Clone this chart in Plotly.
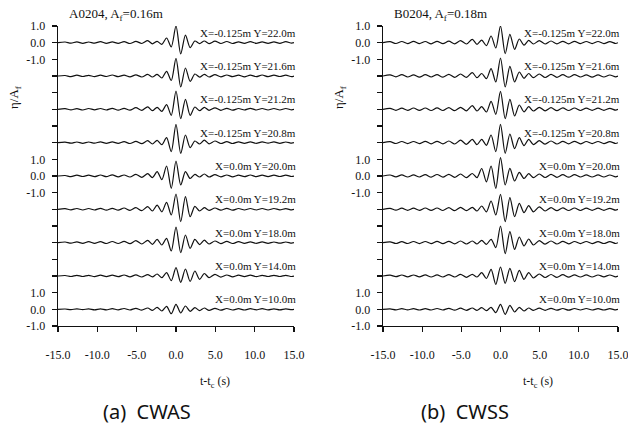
import plotly.graph_objects as go

# Common sampling instants (s) of the wave extrema
T = [-15.0, -14.1, -13.35, -12.6, -11.85, -11.1, -10.35, -9.6, -8.85, -8.1, -7.35, -6.6, -5.85, -5.1, -4.35,
     -3.6, -3.0, -2.4, -1.8, -1.2, -0.6, 0.0, 0.6, 1.2, 1.8, 2.4, 3.0, 3.6, 4.2,
     4.95, 5.7, 6.45, 7.2, 7.95, 8.7, 9.45, 10.2, 10.95, 11.7, 12.45, 13.2, 13.95, 14.7, 15.0]

# (a) CWAS  eta/A_f
CWAS_Y220 = [0, 0.04, -0.03, 0.05, -0.04, 0.04, -0.03, 0.06, -0.04, 0.05, -0.04, 0.06, -0.05, 0.08, -0.05,
             0.12, -0.07, 0.08, -0.1, 0.28, -0.25, 1.0, -0.68, 0.45, -0.3, 0.1, -0.06, 0.1, -0.06,
             0.09, -0.05, 0.07, -0.05, 0.05, -0.04, 0.06, -0.04, 0.05, -0.04, 0.05, -0.04, 0.06, -0.03, 0]
CWAS_Y216 = [0, 0.03, -0.04, 0.05, -0.03, 0.04, -0.04, 0.05, -0.03, 0.06, -0.04, 0.05, -0.05, 0.07, -0.06,
             0.1, -0.06, 0.1, -0.12, 0.28, -0.27, 1.06, -0.66, 0.48, -0.32, 0.12, -0.07, 0.1, -0.06,
             0.08, -0.05, 0.06, -0.04, 0.05, -0.05, 0.05, -0.04, 0.06, -0.04, 0.05, -0.03, 0.05, -0.04, 0]
CWAS_Y212 = [0, 0.04, -0.03, 0.04, -0.04, 0.05, -0.03, 0.05, -0.04, 0.06, -0.05, 0.06, -0.05, 0.1, -0.06,
             0.15, -0.08, 0.12, -0.12, 0.28, -0.36, 1.1, -0.56, 0.6, -0.36, 0.14, -0.08, 0.12, -0.06,
             0.09, -0.06, 0.06, -0.05, 0.05, -0.04, 0.06, -0.04, 0.05, -0.04, 0.05, -0.04, 0.05, -0.03, 0]
CWAS_Y208 = [0, 0.03, -0.03, 0.04, -0.04, 0.04, -0.03, 0.05, -0.04, 0.05, -0.04, 0.06, -0.05, 0.08, -0.06,
             0.12, -0.08, 0.14, -0.12, 0.3, -0.54, 1.1, -0.64, 0.46, -0.3, 0.1, -0.08, 0.15, -0.07,
             0.1, -0.05, 0.06, -0.05, 0.05, -0.04, 0.05, -0.04, 0.05, -0.03, 0.05, -0.04, 0.04, -0.03, 0]
CWAS_Y200 = [0, 0.03, -0.04, 0.05, -0.03, 0.05, -0.04, 0.06, -0.04, 0.07, -0.05, 0.06, -0.06, 0.1, -0.08,
             0.14, -0.1, 0.26, -0.22, 0.6, -0.74, 0.9, -0.54, 0.26, -0.15, 0.1, -0.06, 0.12, -0.06,
             0.08, -0.05, 0.06, -0.05, 0.05, -0.04, 0.06, -0.04, 0.05, -0.04, 0.05, -0.03, 0.05, -0.03, 0]
CWAS_Y192 = [0, 0.04, -0.03, 0.05, -0.04, 0.05, -0.04, 0.06, -0.05, 0.06, -0.05, 0.08, -0.06, 0.1, -0.08,
             0.16, -0.1, 0.25, -0.15, 0.42, -0.34, 0.92, -0.74, 0.76, -0.44, 0.18, -0.1, 0.1, -0.06,
             0.08, -0.05, 0.06, -0.05, 0.05, -0.04, 0.05, -0.04, 0.05, -0.04, 0.05, -0.03, 0.04, -0.03, 0]
CWAS_Y180 = [0, 0.04, -0.03, 0.05, -0.04, 0.06, -0.04, 0.06, -0.05, 0.07, -0.05, 0.08, -0.06, 0.12, -0.08,
             0.14, -0.1, 0.2, -0.14, 0.26, -0.5, 0.94, -0.6, 0.46, -0.34, 0.2, -0.12, 0.15, -0.08,
             0.1, -0.06, 0.08, -0.05, 0.06, -0.04, 0.05, -0.04, 0.05, -0.04, 0.04, -0.03, 0.04, -0.03, 0]
CWAS_Y140 = [0, 0.03, -0.03, 0.04, -0.03, 0.04, -0.04, 0.05, -0.04, 0.05, -0.04, 0.06, -0.05, 0.07, -0.06,
             0.08, -0.05, 0.12, -0.1, 0.2, -0.28, 0.5, -0.38, 0.42, -0.32, 0.3, -0.2, 0.15, -0.1,
             0.1, -0.07, 0.06, -0.05, 0.05, -0.04, 0.05, -0.04, 0.04, -0.03, 0.04, -0.03, 0.04, -0.03, 0]
CWAS_Y100 = [0, 0.02, -0.02, 0.03, -0.02, 0.03, -0.03, 0.03, -0.03, 0.04, -0.03, 0.05, -0.04, 0.06, -0.05,
             0.08, -0.06, 0.12, -0.1, 0.18, -0.26, 0.3, -0.22, 0.2, -0.12, 0.1, -0.08, 0.08, -0.06,
             0.06, -0.05, 0.05, -0.04, 0.04, -0.04, 0.04, -0.03, 0.04, -0.03, 0.03, -0.03, 0.03, -0.02, 0]

# (b) CWSS  eta/A_f
CWSS_Y220 = [0, 0.06, -0.05, 0.07, -0.06, 0.08, -0.06, 0.07, -0.07, 0.08, -0.06, 0.09, -0.07, 0.12, -0.08,
             0.2, -0.1, 0.15, -0.18, 0.4, -0.32, 1.0, -0.66, 0.5, -0.4, 0.22, -0.15, 0.14, -0.08,
             0.12, -0.08, 0.1, -0.07, 0.08, -0.07, 0.08, -0.06, 0.07, -0.06, 0.07, -0.06, 0.06, -0.05, 0]
CWSS_Y216 = [0, 0.07, -0.05, 0.08, -0.06, 0.07, -0.07, 0.08, -0.06, 0.08, -0.07, 0.1, -0.08, 0.12, -0.08,
             0.2, -0.1, 0.15, -0.16, 0.44, -0.36, 1.08, -0.66, 0.58, -0.36, 0.24, -0.14, 0.15, -0.1,
             0.12, -0.09, 0.1, -0.08, 0.08, -0.07, 0.08, -0.06, 0.07, -0.07, 0.07, -0.06, 0.06, -0.05, 0]
CWSS_Y212 = [0, 0.06, -0.06, 0.07, -0.06, 0.08, -0.06, 0.08, -0.07, 0.09, -0.07, 0.1, -0.08, 0.12, -0.09,
             0.22, -0.1, 0.16, -0.16, 0.48, -0.3, 1.08, -0.56, 0.6, -0.4, 0.26, -0.15, 0.16, -0.1,
             0.12, -0.09, 0.1, -0.08, 0.09, -0.07, 0.08, -0.07, 0.07, -0.06, 0.07, -0.06, 0.06, -0.05, 0]
CWSS_Y208 = [0, 0.06, -0.05, 0.07, -0.06, 0.07, -0.06, 0.08, -0.07, 0.08, -0.07, 0.1, -0.08, 0.15, -0.1,
             0.2, -0.12, 0.2, -0.16, 0.46, -0.54, 1.1, -0.64, 0.52, -0.36, 0.3, -0.18, 0.2, -0.12,
             0.12, -0.09, 0.1, -0.08, 0.08, -0.07, 0.08, -0.07, 0.07, -0.06, 0.07, -0.06, 0.06, -0.05, 0]
CWSS_Y200 = [0, 0.06, -0.05, 0.07, -0.06, 0.07, -0.06, 0.08, -0.07, 0.09, -0.07, 0.1, -0.08, 0.12, -0.1,
             0.15, -0.1, 0.45, -0.35, 0.6, -0.74, 1.1, -0.54, 0.46, -0.3, 0.22, -0.15, 0.14, -0.1,
             0.12, -0.09, 0.1, -0.08, 0.08, -0.07, 0.08, -0.06, 0.07, -0.06, 0.07, -0.06, 0.06, -0.05, 0]
CWSS_Y192 = [0, 0.06, -0.05, 0.07, -0.06, 0.07, -0.06, 0.08, -0.06, 0.08, -0.07, 0.1, -0.08, 0.12, -0.08,
             0.12, -0.1, 0.2, -0.15, 0.5, -0.34, 0.9, -0.74, 0.7, -0.44, 0.36, -0.2, 0.22, -0.15,
             0.15, -0.1, 0.1, -0.08, 0.09, -0.07, 0.08, -0.07, 0.07, -0.06, 0.07, -0.06, 0.06, -0.05, 0]
CWSS_Y180 = [0, 0.05, -0.05, 0.06, -0.05, 0.07, -0.06, 0.07, -0.06, 0.08, -0.06, 0.08, -0.07, 0.1, -0.08,
             0.1, -0.08, 0.14, -0.1, 0.2, -0.3, 1.0, -0.66, 0.66, -0.4, 0.34, -0.2, 0.22, -0.14,
             0.12, -0.09, 0.1, -0.08, 0.08, -0.07, 0.07, -0.06, 0.07, -0.06, 0.06, -0.05, 0.06, -0.05, 0]
CWSS_Y140 = [0, 0.05, -0.04, 0.06, -0.05, 0.06, -0.05, 0.07, -0.06, 0.07, -0.06, 0.08, -0.06, 0.1, -0.08,
             0.1, -0.06, 0.2, -0.15, 0.4, -0.5, 0.54, -0.44, 0.46, -0.34, 0.34, -0.2, 0.2, -0.12,
             0.12, -0.09, 0.09, -0.08, 0.08, -0.07, 0.07, -0.06, 0.07, -0.06, 0.06, -0.05, 0.06, -0.05, 0]
CWSS_Y100 = [0, 0.03, -0.03, 0.04, -0.03, 0.04, -0.04, 0.04, -0.04, 0.05, -0.04, 0.06, -0.05, 0.07, -0.06,
             0.08, -0.06, 0.1, -0.08, 0.12, -0.2, 0.3, -0.3, 0.24, -0.16, 0.12, -0.1, 0.08, -0.06,
             0.07, -0.06, 0.06, -0.05, 0.05, -0.05, 0.05, -0.04, 0.05, -0.04, 0.04, -0.04, 0.04, -0.03, 0]

LABELS_A = ["X=-0.125m Y=22.0m", "X=-0.125m Y=21.6m", "X=-0.125m Y=21.2m", "X=-0.125m Y=20.8m",
            "X=0.0m Y=20.0m", "X=0.0m Y=19.2m", "X=0.0m Y=18.0m", "X=0.0m Y=14.0m", "X=0.0m Y=10.0m"]
LABELS_B = ["X=-0.125m Y=22.0m", "X=-0.125m Y=21.6m", "X=-0.125m Y=21.2m", "X=-0.125m Y=20.8m",
            "X=0.0m Y=20.0m", "X=0.0m Y=19.2m", "X=0.0m Y=18.0m", "X=0.0m Y=14.0m", "X=0.0m Y=10.0m"]
SERIES_A = [CWAS_Y220, CWAS_Y216, CWAS_Y212, CWAS_Y208, CWAS_Y200, CWAS_Y192, CWAS_Y180, CWAS_Y140, CWAS_Y100]
SERIES_B = [CWSS_Y220, CWSS_Y216, CWSS_Y212, CWSS_Y208, CWSS_Y200, CWSS_Y192, CWSS_Y180, CWSS_Y140, CWSS_Y100]

X_TICKS = [-15, -10, -5, 0, 5, 10, 15]
X_TICKTEXT = ["-15.0", "-10.0", "-5.0", "0.0", "5.0", "10.0", "15.0"]
# labelled y ticks (stacked offsets of the top, middle and bottom records)
Y_TICKS = [17, 16, 15, 9, 8, 7, 1, 0, -1]
Y_TICKTEXT = ["1.0", "0.0", "-1.0", "1.0", "0.0", "-1.0", "1.0", "0.0", "-1.0"]

W, H = 628, 430
SERIF = "Liberation Serif"
OFFSETS = [16, 14, 12, 10, 8, 6, 4, 2, 0]

fig = go.Figure()

def px_x(p):
    return p / W

def px_y(p):
    return 1 - p / H

panels = [
    ("x", "y", SERIES_A, LABELS_A),
    ("x2", "y2", SERIES_B, LABELS_B),
]

for xa, ya, series, labels in panels:
    for vals, off, lab in zip(series, OFFSETS, labels):
        fig.add_trace(go.Scatter(
            x=T, y=[v + off for v in vals], mode="lines",
            line=dict(color="#111111", width=1.2, shape="spline", smoothing=0.8),
            xaxis=xa, yaxis=ya, showlegend=False, hoverinfo="skip"))
        fig.add_annotation(x=15, y=off + 0.6, xref=xa, yref=ya, text=lab,
                           showarrow=False, xanchor="right", yanchor="middle", xshift=3,
                           borderpad=0, font=dict(family=SERIF, size=11, color="#111111"))

axis_common = dict(showgrid=False, zeroline=False, showline=True, linecolor="#111111", linewidth=1.3,
                   ticks="outside", ticklen=5, tickwidth=1.2, tickcolor="#111111",
                   tickfont=dict(family=SERIF, size=12, color="#111111"), automargin=False,
                   ticklabeloverflow="allow")
y_minor = dict(ticks="outside", ticklen=5, tickwidth=1.2, tickcolor="#111111", dtick=1, tick0=0,
               showgrid=False)

y_dom = [px_y(326), px_y(26)]
fig.update_layout(
    xaxis=dict(domain=[px_x(58), px_x(294)], range=[-15, 15], tickvals=X_TICKS, ticktext=X_TICKTEXT,
               anchor="y", ticklabelstandoff=12, **axis_common),
    yaxis=dict(domain=y_dom, range=[-1, 17], tickvals=Y_TICKS, ticktext=Y_TICKTEXT, anchor="x",
               ticklabelstandoff=4, minor=y_minor, **axis_common),
    xaxis2=dict(domain=[px_x(383), px_x(618)], range=[-15, 15], tickvals=X_TICKS, ticktext=X_TICKTEXT,
                anchor="y2", ticklabelstandoff=12, **axis_common),
    yaxis2=dict(domain=y_dom, range=[-1, 17], tickvals=Y_TICKS, ticktext=Y_TICKTEXT, anchor="x2",
                ticklabelstandoff=4, minor=y_minor, **axis_common),
    width=W, height=H, margin=dict(l=0, r=0, t=0, b=0),
    plot_bgcolor="white", paper_bgcolor="white",
)

def paper_ann(x, y, text, size, family=SERIF, angle=0, xanchor="center"):
    fig.add_annotation(x=px_x(x), y=px_y(y), xref="paper", yref="paper", text=text, showarrow=False,
                       xanchor=xanchor, yanchor="middle", textangle=angle,
                       font=dict(family=family, size=size, color="#111111"))

paper_ann(67, 15, "A0204, A<sub>f</sub>=0.16m", 13, xanchor="left")
paper_ann(392, 15, "B0204, A<sub>f</sub>=0.18m", 13, xanchor="left")
paper_ann(14, 97, "η/A<sub>f</sub>", 13, angle=-90)
paper_ann(339, 97, "η/A<sub>f</sub>", 13, angle=-90)
paper_ann(215, 382, "t-t<sub>c</sub> (s)", 12)
paper_ann(538, 382, "t-t<sub>c</sub> (s)", 12)
paper_ann(147, 411, "(a)  CWAS", 20, family="Noto Sans")
paper_ann(465, 411, "(b)  CWSS", 20, family="Noto Sans")

fig.write_html("out.html", config={"displayModeBar": False, "staticPlot": True},
               post_script="document.body.style.margin='0px';document.body.style.overflow='hidden';")
